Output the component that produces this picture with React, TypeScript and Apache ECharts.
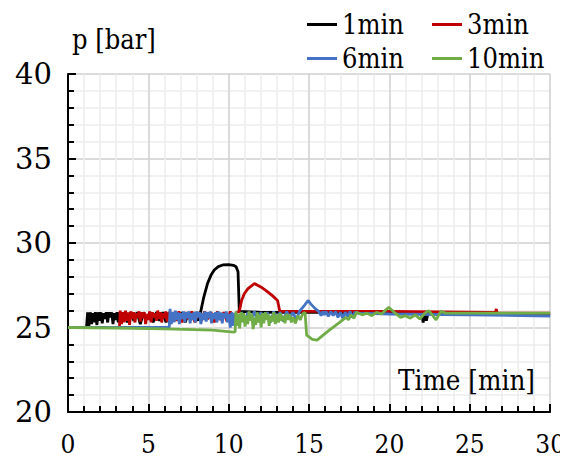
import React, { useEffect, useRef } from "react";
import * as echarts from "echarts";

const seriesNames = ["1min", "3min", "6min", "10min"];
const seriesColors = ["#000000", "#c00000", "#4472c4", "#70ad47"];
const xTicks = { min: 0, max: 30, step: 5 };
const yTicks = { min: 20, max: 40, step: 5 };

const black1min: [number, number][] = [
  [0, 25.0], [1.15, 25.0], [1.22, 25.9], [1.3, 25.1], [1.38, 25.9], [1.47, 25.2], [1.55, 25.85], [1.62, 25.3],
  [1.7, 25.9], [1.8, 25.15], [1.88, 25.9], [1.97, 25.4], [2.05, 25.9], [2.13, 25.25], [2.22, 25.85], [2.3, 25.5],
  [2.38, 25.9], [2.47, 25.3], [2.55, 25.9], [2.63, 25.6], [2.72, 25.9], [2.8, 25.2], [2.88, 25.85], [2.97, 25.45],
  [3.05, 25.9], [3.13, 25.3], [3.22, 25.9], [3.3, 25.25], [3.5, 25.9], [3.7, 25.3], [3.9, 25.9], [4.1, 25.4],
  [4.3, 25.9], [4.5, 25.2], [4.7, 25.9], [4.9, 25.5], [5.1, 25.9], [5.3, 25.3], [5.5, 25.9], [5.7, 25.4],
  [5.9, 25.9], [6.1, 25.3], [6.3, 25.9], [6.5, 25.5], [6.7, 25.9], [6.9, 25.4], [7.1, 25.9], [7.3, 25.3],
  [7.5, 25.9], [7.7, 25.5], [7.9, 25.9], [8.1, 25.4], [8.26, 25.95], [8.45, 26.8], [8.68, 27.6], [8.9, 28.1],
  [9.1, 28.4], [9.35, 28.6], [9.63, 28.7], [10.0, 28.72], [10.3, 28.68], [10.46, 28.6], [10.58, 28.3], [10.66, 25.95],
  [12, 25.9], [16, 25.9], [20, 25.85], [22.0, 25.85], [22.1, 25.3], [22.2, 25.9], [22.3, 25.4], [22.4, 25.85],
  [23, 25.8], [30, 25.75],
];

const red3min: [number, number][] = [
  [0, 25.0], [3.2, 25.0], [3.25, 26.0], [3.33, 25.2], [3.42, 25.9], [3.5, 25.3], [3.58, 26.0], [3.67, 25.4],
  [3.75, 25.9], [3.83, 25.15], [3.92, 25.95], [4.0, 25.5], [4.08, 25.9], [4.17, 25.3], [4.25, 25.85], [4.33, 25.6],
  [4.42, 25.95], [4.5, 25.35], [4.58, 25.9], [4.67, 25.55], [4.75, 25.9], [4.83, 25.2], [4.92, 25.8], [5.0, 25.45],
  [5.08, 25.95], [5.17, 25.3], [5.25, 25.9], [5.33, 25.6], [5.42, 25.85], [5.5, 25.4], [5.58, 26.0], [5.67, 25.5],
  [5.75, 25.9], [5.83, 25.3], [5.92, 25.85], [6.0, 25.55], [6.08, 25.95], [6.17, 25.35], [6.25, 25.9], [6.33, 25.2],
  [6.5, 25.9], [6.7, 25.4], [6.9, 25.95], [7.1, 25.3], [7.3, 25.9], [7.5, 25.5], [7.7, 25.95], [7.9, 25.3],
  [8.1, 25.9], [8.3, 25.4], [8.5, 25.95], [8.7, 25.5], [8.9, 25.9], [9.1, 25.3], [9.3, 25.95], [9.5, 25.45],
  [9.7, 25.9], [9.9, 25.35], [10.1, 25.95], [10.3, 25.5], [10.5, 25.9], [10.66, 25.95], [10.8, 26.6], [10.97, 27.0],
  [11.2, 27.3], [11.6, 27.6], [12.0, 27.4], [12.3, 27.2], [12.7, 26.9], [13.04, 26.6], [13.18, 25.95], [20, 25.95],
  [26.6, 25.9], [26.65, 26.1], [26.7, 25.85], [30, 25.85],
];

const blue6min: [number, number][] = [
  [0, 25.0], [6.3, 25.0], [6.35, 26.1], [6.43, 25.2], [6.52, 25.9], [6.6, 25.3], [6.68, 26.0], [6.77, 25.45],
  [6.85, 25.9], [6.93, 25.2], [7.02, 25.85], [7.1, 25.5], [7.18, 25.95], [7.27, 25.3], [7.35, 25.9], [7.43, 25.55],
  [7.52, 25.95], [7.6, 25.25], [7.68, 25.85], [7.77, 25.45], [7.85, 25.9], [7.93, 25.3], [8.02, 25.95], [8.1, 25.6],
  [8.18, 25.9], [8.27, 25.2], [8.35, 25.85], [8.43, 25.45], [8.52, 25.95], [8.6, 25.35], [8.68, 25.9], [8.77, 25.55],
  [8.85, 25.95], [8.93, 25.25], [9.02, 25.85], [9.1, 25.5], [9.18, 25.9], [9.27, 25.3], [9.35, 25.95], [9.43, 25.45],
  [9.52, 25.9], [9.6, 25.25], [9.68, 25.85], [9.77, 25.55], [9.85, 25.95], [9.93, 25.3], [10.02, 25.8], [10.1, 25.0],
  [10.2, 25.9], [10.3, 25.1], [10.4, 25.85], [10.6, 25.4], [10.8, 25.9], [11.0, 25.3], [11.2, 25.9], [11.4, 25.5],
  [11.6, 25.95], [11.8, 25.35], [12.0, 25.9], [12.2, 25.5], [12.4, 25.9], [12.6, 25.3], [12.8, 25.95], [13.0, 25.5],
  [13.2, 25.9], [13.4, 25.35], [13.6, 25.95], [13.8, 25.55], [14.0, 25.9], [14.2, 25.45], [14.4, 25.95], [14.7, 26.3],
  [14.95, 26.6], [15.1, 26.4], [15.4, 26.1], [15.6, 25.95], [15.75, 25.7], [15.85, 25.95], [15.95, 25.75], [16.05, 25.95],
  [16.2, 25.65], [16.35, 25.95], [16.5, 25.7], [16.65, 25.95], [16.8, 25.6], [16.95, 25.9], [17.1, 25.55], [17.25, 25.9],
  [17.4, 25.65], [17.55, 25.95], [17.7, 25.6], [17.85, 25.9], [18.1, 25.85], [20, 25.8], [25, 25.75], [30, 25.68],
];

const green10min: [number, number][] = [
  [0, 25.0], [3, 24.97], [6, 24.92], [9, 24.85], [10.3, 24.72], [10.4, 24.75], [10.45, 25.95], [10.52, 25.1],
  [10.6, 25.8], [10.68, 24.95], [10.77, 25.9], [10.85, 25.3], [10.93, 25.85], [11.02, 25.05], [11.1, 25.7], [11.18, 25.2],
  [11.27, 25.95], [11.35, 25.4], [11.43, 25.8], [11.52, 24.9], [11.6, 25.6], [11.68, 25.15], [11.77, 25.9], [11.85, 25.3],
  [11.93, 25.75], [12.02, 25.0], [12.1, 25.85], [12.18, 25.25], [12.27, 25.9], [12.35, 25.45], [12.43, 25.8], [12.52, 25.1],
  [12.6, 25.7], [12.7, 25.35], [12.8, 25.9], [12.9, 25.2], [13.0, 25.75], [13.1, 25.3], [13.2, 25.85], [13.3, 25.4],
  [13.4, 25.7], [13.5, 25.25], [13.6, 25.8], [13.7, 25.45], [13.8, 25.75], [13.9, 25.3], [14.0, 25.6], [14.15, 25.25],
  [14.3, 25.7], [14.45, 25.45], [14.6, 25.8], [14.75, 25.9], [14.85, 24.55], [15.2, 24.3], [15.5, 24.25], [16.2, 24.8],
  [16.9, 25.3], [17.3, 25.6], [17.45, 25.45], [17.6, 25.75], [17.8, 25.55], [17.95, 25.9], [18.3, 25.75], [18.6, 25.85],
  [18.9, 25.7], [19.2, 25.9], [19.5, 25.8], [19.96, 26.2], [20.3, 25.9], [20.7, 25.6], [21.0, 25.7], [21.3, 25.55],
  [21.6, 25.75], [21.9, 25.5], [22.2, 25.85], [22.45, 26.0], [22.7, 25.7], [22.9, 25.45], [23.2, 25.95], [23.5, 25.85],
  [30, 25.85],
];

const seriesData = [black1min, red3min, blue6min, green10min];

const condensed = "DejaVu Serif Condensed";
const plainSerif = "DejaVu Serif";

export default function App() {
  const ref = useRef<HTMLDivElement>(null);
  useEffect(() => {
    if (!ref.current) return;
    const chart = echarts.init(ref.current, undefined, { renderer: "svg" });
    const legendPos = [
      { left: 299, top: 3 },
      { left: 424, top: 3 },
      { left: 299, top: 37 },
      { left: 424, top: 37 },
    ];
    chart.setOption({
      animation: false,
      backgroundColor: "#ffffff",
      grid: { left: 60, right: 16, top: 66, bottom: 53, containLabel: false },
      legend: seriesNames.map((name, i) => ({
        data: [name],
        ...legendPos[i],
        itemWidth: 30, itemHeight: 3, icon: "rect", padding: 0,
        textStyle: { fontFamily: condensed, fontSize: 27, color: "#000" },
      })),
      xAxis: {
        type: "value",
        min: xTicks.min, max: xTicks.max, interval: xTicks.step,
        axisLine: { show: true, lineStyle: { color: "#000", width: 2 } },
        axisTick: { show: true, inside: true, length: 8, lineStyle: { color: "#000", width: 2 } },
        minorTick: { show: true, splitNumber: 5, length: 6, lineStyle: { color: "#000", width: 2 } },
        splitLine: { show: true, lineStyle: { color: "#cfcfcf", width: 1.5 } },
        minorSplitLine: { show: true, lineStyle: { color: "#ececec", width: 1.5 } },
        axisLabel: { fontFamily: condensed, fontSize: 26, color: "#000", margin: 19 },
      },
      yAxis: {
        type: "value",
        min: yTicks.min, max: yTicks.max, interval: yTicks.step,
        axisLine: { show: true, lineStyle: { color: "#000", width: 2 } },
        axisTick: { show: true, inside: true, length: 8, lineStyle: { color: "#000", width: 2 } },
        minorTick: { show: true, splitNumber: 5, length: 6, lineStyle: { color: "#000", width: 2 } },
        splitLine: { show: true, lineStyle: { color: "#cfcfcf", width: 1.5 } },
        minorSplitLine: { show: true, lineStyle: { color: "#ececec", width: 1.5 } },
        axisLabel: { fontFamily: plainSerif, fontSize: 29, color: "#000", margin: 16 },
      },
      graphic: [
        { type: "text", left: 64, top: 18, z: 10, style: { text: "p [bar]", fontFamily: condensed, fontSize: 27, fill: "#000" } },
        { type: "text", left: 390, top: 358, z: 10, style: { text: "Time [min]", fontFamily: condensed, fontSize: 27.5, fill: "#000" } },
      ],
      series: seriesNames.map((name, i) => ({
        name,
        type: "line",
        data: seriesData[i],
        symbol: "none",
        color: seriesColors[i],
        lineStyle: { color: seriesColors[i], width: 2.8 },
        z: 2 + i,
      })),
    });
    return () => chart.dispose();
  }, []);
  return <div ref={ref} style={{ width: 560, height: 457 }} />;
}
